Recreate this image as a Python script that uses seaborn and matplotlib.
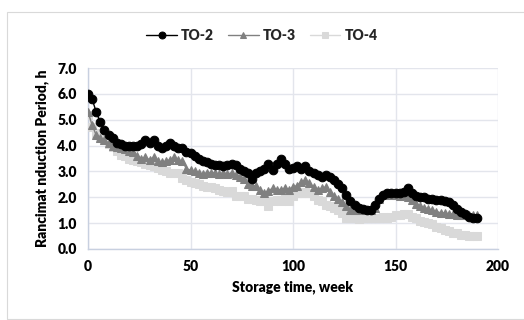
import numpy as np
import pandas as pd
import matplotlib
matplotlib.use("Agg")
import matplotlib.pyplot as plt
import seaborn as sns
from matplotlib.patches import Rectangle

weeks = list(range(0, 191, 2))

to2 = [6.0, 5.8, 5.3, 4.9, 4.6, 4.4, 4.3, 4.1, 4.05, 4.0,
       4.0, 4.0, 4.0, 4.05, 4.2, 4.1, 4.2, 4.0, 3.9, 4.0,
       4.1, 4.0, 3.9, 3.9, 3.75, 3.7, 3.6, 3.5, 3.4, 3.35,
       3.3, 3.25, 3.25, 3.2, 3.25, 3.3, 3.25, 3.1, 3.0, 2.95,
       2.7, 2.95, 3.0, 3.1, 3.3, 3.05, 3.3, 3.5, 3.3, 3.1,
       3.15, 3.2, 3.1, 3.2, 3.0, 2.95, 2.85, 2.8, 2.85, 2.8,
       2.65, 2.5, 2.35, 2.1, 1.85, 1.7, 1.6, 1.55, 1.5, 1.5,
       1.7, 1.95, 2.1, 2.15, 2.15, 2.15, 2.15, 2.2, 2.35, 2.15,
       2.05, 2.0, 2.0, 1.95, 1.95, 1.9, 1.9, 1.85, 1.8, 1.7,
       1.55, 1.45, 1.35, 1.25, 1.2, 1.2]

to3 = [5.3, 4.8, 4.4, 4.3, 4.2, 4.1, 4.0, 3.95, 3.9, 3.85,
       3.8, 3.75, 3.6, 3.5, 3.55, 3.45, 3.55, 3.4, 3.35, 3.4,
       3.45, 3.55, 3.45, 3.4, 3.1, 3.05, 3.0, 2.95, 2.9, 2.95,
       2.95, 2.95, 2.9, 2.95, 2.9, 2.95, 2.85, 2.8, 2.7, 2.5,
       2.45, 2.45, 2.3, 2.15, 2.25, 2.35, 2.3, 2.3, 2.35, 2.3,
       2.4, 2.45, 2.6, 2.65, 2.55, 2.4, 2.3, 2.35, 2.4, 2.2,
       2.05, 1.95, 1.8, 1.65, 1.5, 1.5, 1.5, 1.55, 1.5, 1.5,
       1.6, 1.95, 2.1, 2.15, 2.1, 2.1, 2.05, 2.1, 2.0, 1.9,
       1.75, 1.65, 1.6, 1.55, 1.5, 1.45, 1.4, 1.4, 1.35, 1.35,
       1.3, 1.3, 1.3, 1.3, 1.3, 1.3]

to4 = [5.2, 4.7, 4.5, 4.3, 4.2, 4.05, 3.95, 3.8, 3.65, 3.6,
       3.5, 3.45, 3.4, 3.35, 3.3, 3.25, 3.2, 3.15, 3.05, 3.0,
       2.95, 2.95, 2.95, 2.75, 2.65, 2.6, 2.55, 2.5, 2.45, 2.4,
       2.4, 2.35, 2.3, 2.25, 2.2, 2.25, 2.05, 2.05, 2.05, 1.95,
       1.95, 1.9, 1.85, 1.85, 1.65, 1.85, 1.9, 1.85, 1.95, 1.85,
       2.05, 2.15, 2.15, 2.2, 2.15, 2.05, 1.9, 1.85, 1.7, 1.65,
       1.6, 1.5, 1.4, 1.2, 1.2, 1.2, 1.15, 1.2, 1.2, 1.2,
       1.2, 1.2, 1.25, 1.2, 1.25, 1.3, 1.3, 1.35, 1.35, 1.25,
       1.2, 1.1, 1.05, 1.0, 0.95, 0.85, 0.8, 0.75, 0.7, 0.62,
       0.6, 0.55, 0.55, 0.5, 0.5, 0.5]

series_names = ["TO-2", "TO-3", "TO-4"]
colors = ["#000000", "#808080", "#d9d9d9"]
markers = ["o", "^", "s"]
yticks = [0, 1, 2, 3, 4, 5, 6, 7]
xticks = [0, 50, 100, 150, 200]

sns.set_theme(style="white")
plt.rcParams['font.family'] = ['Lato', 'DejaVu Sans']

fig = plt.figure(figsize=(5.24, 3.2), dpi=100)
ax = fig.add_axes([88/524, 1-249/320, 410/524, 181/320])

fig.patches.append(Rectangle((7/524, 1/320), 1.2, 307/320, transform=fig.transFigure,
                             fill=False, edgecolor="#d9d9d9", linewidth=0.8, zorder=0))

for name, vals, c, m in zip(series_names, [to2, to3, to4], colors, markers):
    df = pd.DataFrame({"week": weeks, "val": vals})
    sns.lineplot(data=df, x="week", y="val", ax=ax, color=c, marker=m,
                 markersize=6.2, markeredgecolor=c, linewidth=1.0, label=name)

lines = ax.get_lines()
for i, ln in enumerate(lines):
    ln.set_zorder(5 - i)

ax.set_xlim(0, 200)
ax.set_ylim(0, 7)
ax.set_xticks(xticks)
ax.set_yticks(yticks)
ax.set_yticklabels([f"{v:.1f}" for v in yticks])
ax.grid(True, color="#e3e5ec", linewidth=1.0)
ax.set_axisbelow(True)
for s in ["top", "right"]:
    ax.spines[s].set_visible(False)
for s in ["left", "bottom"]:
    ax.spines[s].set_color("#c8d0e0")
    ax.spines[s].set_linewidth(1.0)
ax.tick_params(axis="both", length=0, labelsize=10, pad=8)
for lab in ax.get_xticklabels() + ax.get_yticklabels():
    lab.set_fontweight("heavy")
    lab.set_color("#000000")
ax.set_xlabel("Storage time, week", fontsize=10, fontweight="heavy", color="#000000", labelpad=5)
ax.set_ylabel("Rancimat nduction Period, h", fontsize=10, fontweight="heavy", color="#000000", labelpad=6)

leg = ax.legend(loc="center", bbox_to_anchor=(262/524, 1-35/320), bbox_transform=fig.transFigure,
                ncol=3, frameon=False, handlelength=2.2, handletextpad=0.3, columnspacing=1.0,
                markerscale=0.8, prop={"weight": "heavy", "size": 10})

fig.savefig("out.png", dpi=100)
